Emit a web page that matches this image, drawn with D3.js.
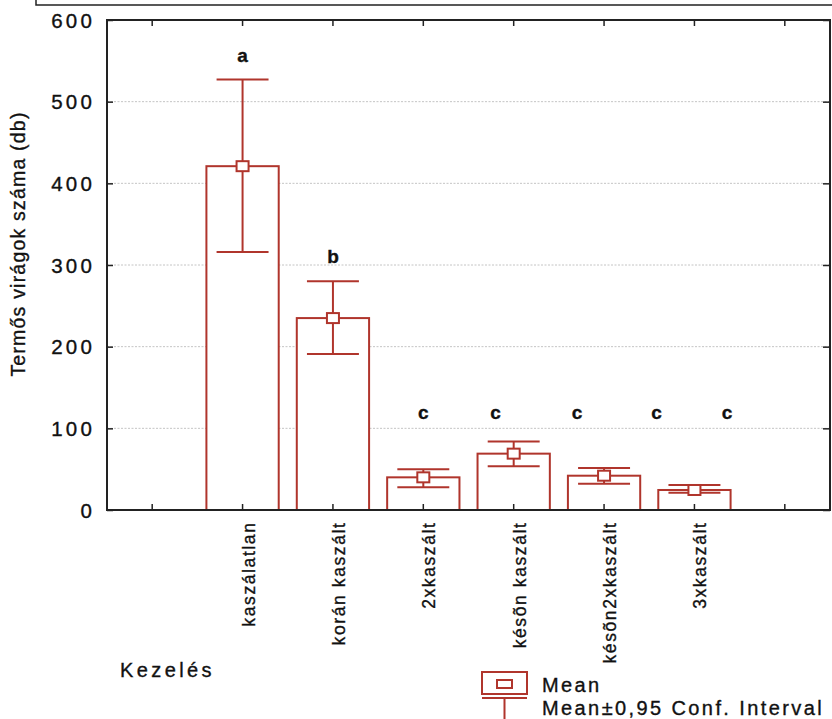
<!DOCTYPE html>
<html>
<head>
<meta charset="utf-8">
<script src="https://cdn.jsdelivr.net/npm/d3@7"></script>
<style>
    body { margin: 0; background: #fff; }
    svg { display: block; font-family: "Liberation Sans", Arial, sans-serif; }
    svg text { stroke: #111; stroke-width: 0.35px; }
</style>
</head>
<body>
<svg id="chart" width="832" height="719"></svg>
<script>
// values
const categories = ['kaszálatlan', 'korán kaszált', '2xkaszált', 'késõn kaszált', 'késõn2xkaszált', '3xkaszált'];
const means = [421, 235, 40, 69, 42, 24.5];
const ciLow = [316, 191, 28, 53.5, 32, 21];
const ciHigh = [527, 280, 50, 84, 51.5, 30.5];

// homogeneous group letters (slot = position on the category axis, value = height)
const groupLetters = ['a', 'b', 'c', 'c', 'c', 'c', 'c'];
const letterSlots = [1, 2, 3, 3.8, 4.7, 5.58, 6.36];
const letterValues = [557, 310, 120, 120, 120, 120, 120];

const yTicks = [0, 100, 200, 300, 400, 500, 600];

const red = '#b0352c';
const svg = d3.select('#chart');
const plot = { left: 107, right: 830, top: 20, bottom: 510 };

// one empty slot on each side of the six treatments
const slots = d3.range(categories.length + 2);
const x = d3.scaleBand()
    .domain(slots)
    .range([plot.left, plot.right]);
const cx = i => x(i + 1) + x.bandwidth() / 2;
const slotX = d3.scaleLinear()
    .domain([0, slots.length - 1])
    .range([x(0) + x.bandwidth() / 2, x(slots.length - 1) + x.bandwidth() / 2]);

const y = d3.scaleLinear()
    .domain([0, 600])
    .range([plot.bottom, plot.top]);

// cut-off title box at the very top
svg.append('path')
    .attr('d', 'M36,-2V5H834')
    .style('fill', 'none')
    .style('stroke', '#222')
    .style('stroke-width', 1.5);

// grid
svg.append('g').selectAll('line')
    .data(yTicks.filter(d => d > 0 && d < 600))
    .enter()
    .append('line')
    .attr('x1', plot.left)
    .attr('x2', plot.right)
    .attr('y1', d => y(d))
    .attr('y2', d => y(d))
    .style('stroke', '#c4c4c4')
    .style('stroke-dasharray', '2,1.5')
    .style('stroke-width', 1);

// bars
const bw = x.bandwidth() * 0.8;
svg.append('g').selectAll('rect')
    .data(means)
    .enter()
    .append('rect')
    .attr('x', (d, i) => cx(i) - bw / 2)
    .attr('y', d => y(d))
    .attr('width', bw)
    .attr('height', d => y(0) - y(d))
    .style('fill', '#fff')
    .style('stroke', red)
    .style('stroke-width', 2);

// confidence intervals
const cap = x.bandwidth() * 0.575;
const whiskers = svg.append('g')
    .style('stroke', red)
    .style('stroke-width', 2)
    .style('fill', 'none');
means.forEach((m, i) => {
    whiskers.append('line')
        .attr('x1', cx(i)).attr('x2', cx(i))
        .attr('y1', y(ciLow[i])).attr('y2', y(ciHigh[i]));
    [ciLow[i], ciHigh[i]].forEach(v => {
        whiskers.append('line')
            .attr('x1', cx(i) - cap / 2).attr('x2', cx(i) + cap / 2)
            .attr('y1', y(v)).attr('y2', y(v));
    });
});

// mean markers
svg.append('g').selectAll('rect')
    .data(means)
    .enter()
    .append('rect')
    .attr('x', (d, i) => cx(i) - 6)
    .attr('y', d => y(d) - 5)
    .attr('width', 12)
    .attr('height', 10)
    .style('fill', '#fff')
    .style('stroke', red)
    .style('stroke-width', 2);

// frame
svg.append('rect')
    .attr('x', plot.left)
    .attr('y', plot.top)
    .attr('width', plot.right - plot.left)
    .attr('height', plot.bottom - plot.top)
    .style('fill', 'none')
    .style('stroke', '#222')
    .style('stroke-width', 2);

// inward ticks on all sides
const tickStyle = g => g.selectAll('line').style('stroke', '#222').style('stroke-width', 1.5);
svg.append('g')
    .attr('transform', `translate(0, ${plot.bottom})`)
    .call(d3.axisBottom(x).tickSize(-6).tickFormat(''))
    .call(g => g.select('.domain').remove())
    .call(tickStyle);
svg.append('g')
    .attr('transform', `translate(0, ${plot.top})`)
    .call(d3.axisTop(x).tickSize(-6).tickFormat(''))
    .call(g => g.select('.domain').remove())
    .call(tickStyle);
svg.append('g')
    .attr('transform', `translate(${plot.right}, 0)`)
    .call(d3.axisRight(y).tickValues(yTicks).tickSize(-7).tickFormat(''))
    .call(g => g.select('.domain').remove())
    .call(tickStyle);

const yAxis = svg.append('g')
    .attr('transform', `translate(${plot.left}, 0)`)
    .call(d3.axisLeft(y).tickValues(yTicks).tickSize(-6).tickPadding(12))
    .call(g => g.select('.domain').remove())
    .call(tickStyle);
yAxis.selectAll('text')
    .attr('dy', '0.35em')
    .style('font-family', '"Liberation Sans", Arial, sans-serif')
    .style('font-size', '20.5px')
    .style('letter-spacing', '3.2px')
    .style('fill', '#111');

// category labels
svg.append('g').selectAll('text')
    .data(categories)
    .enter()
    .append('text')
    .attr('transform', (d, i) => `translate(${cx(i) + 12}, 521.5) rotate(-90)`)
    .attr('text-anchor', 'end')
    .style('font-size', '17.5px')
    .style('letter-spacing', '1.6px')
    .style('fill', '#111')
    .text(d => d);

// axis titles
svg.append('text')
    .attr('transform', 'translate(25, 244) rotate(-90)')
    .attr('text-anchor', 'middle')
    .style('font-size', '19.5px')
    .style('letter-spacing', '1.2px')
    .style('fill', '#111')
    .text('Termős virágok száma (db)');

svg.append('text')
    .attr('x', 120)
    .attr('y', 677)
    .style('font-size', '20px')
    .style('letter-spacing', '3.4px')
    .style('fill', '#111')
    .text('Kezelés');

// group letters
svg.append('g').selectAll('text')
    .data(groupLetters)
    .enter()
    .append('text')
    .attr('x', (d, i) => slotX(letterSlots[i]))
    .attr('y', (d, i) => y(letterValues[i]))
    .attr('dy', '0.35em')
    .attr('text-anchor', 'middle')
    .style('font-size', '19px')
    .style('font-weight', 'bold')
    .style('fill', '#111')
    .text(d => d);

// legend
const legend = svg.append('g');
legend.append('rect')
    .attr('x', 482).attr('y', 672)
    .attr('width', 45).attr('height', 22)
    .style('fill', '#fff').style('stroke', red).style('stroke-width', 2);
legend.append('rect')
    .attr('x', 497).attr('y', 680)
    .attr('width', 15).attr('height', 8)
    .style('fill', '#fff').style('stroke', red).style('stroke-width', 2);
legend.append('path')
    .attr('d', 'M482,698H527M504.5,698V719')
    .style('fill', 'none').style('stroke', red).style('stroke-width', 2);

const legendLabels = ['Mean', 'Mean±0,95 Conf. Interval'];
legend.selectAll('text')
    .data(legendLabels)
    .enter()
    .append('text')
    .attr('x', 542)
    .attr('y', (d, i) => 692 + i * 23)
    .style('font-size', '20px')
    .style('letter-spacing', '2.4px')
    .style('fill', '#111')
    .text(d => d);
</script>
</body>
</html>
